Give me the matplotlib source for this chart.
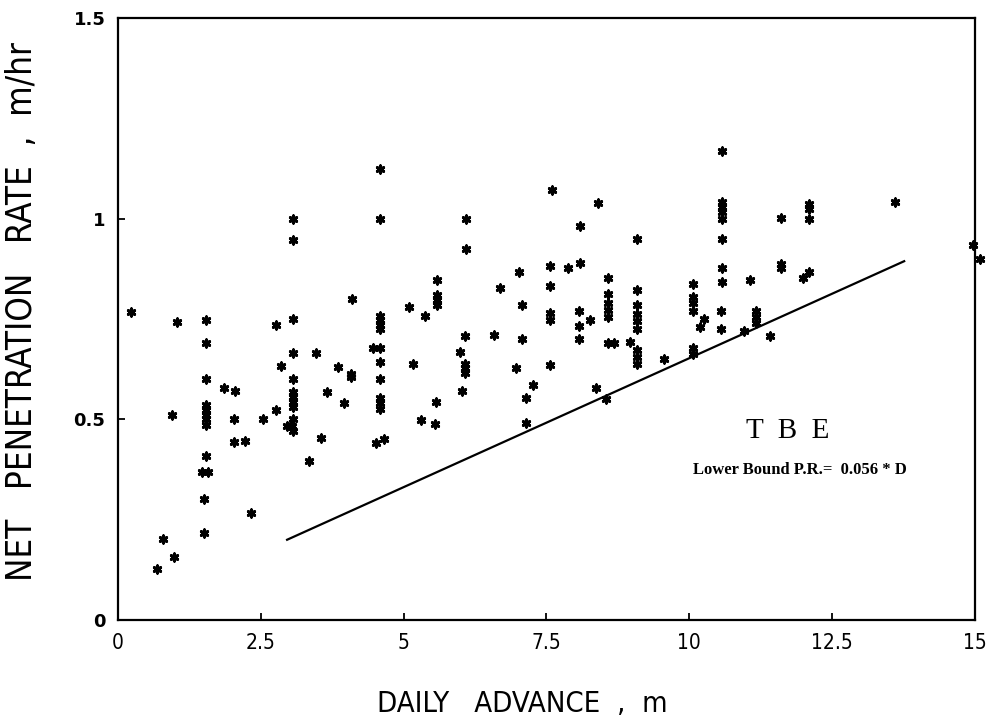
import matplotlib
matplotlib.use("Agg")
import matplotlib.pyplot as plt

# ---- data ----
daily_advance = [
    0.23, 1.03, 0.95, 0.79, 0.68, 0.98,
    1.54, 1.54, 1.54, 1.54, 1.54, 1.54, 1.54, 1.54, 1.54, 1.47, 1.58, 1.51, 1.51,
    1.86, 2.04, 2.03, 2.03, 2.22, 2.33, 2.53, 2.76, 2.76, 2.86,
    3.07, 3.07, 3.07, 3.07, 3.07, 3.07, 3.07, 3.07, 3.07, 3.07, 3.07, 2.95, 3.05,
    3.46, 3.55, 3.35, 3.66, 3.85,
    3.95, 4.07, 4.07, 4.09,
    4.59, 4.59, 4.59, 4.59, 4.59, 4.59, 4.59, 4.59, 4.59, 4.59, 4.59, 4.59, 4.47, 4.51, 4.66,
    5.09, 5.16, 5.38, 5.31, 5.56, 5.54, 5.59, 5.59, 5.59, 5.59,
    6.09, 6.09, 6.08, 5.98, 6.08, 6.08, 6.08, 6.02,
    6.69, 6.58, 7.01, 7.08, 7.08, 6.97, 7.14, 7.27, 7.15,
    7.59, 7.57, 7.57, 7.57, 7.57, 7.56,
    7.88, 8.09, 8.09, 8.40, 8.07, 8.07, 8.07, 8.27, 8.36, 8.55,
    8.58, 8.58, 8.58, 8.58, 8.58, 8.58, 8.68,
    9.08, 9.08, 9.08, 9.08, 9.08, 9.08, 8.97, 9.08, 9.08, 9.08,
    9.56, 10.07, 10.07, 10.07, 10.07, 10.07, 10.07, 10.19, 10.26,
    10.57, 10.57, 10.57, 10.57, 10.57, 10.57, 10.57, 10.57, 10.56, 10.56,
    11.06, 11.16, 11.16, 11.16, 10.96, 11.42,
    11.61, 11.60, 11.60, 12.10, 12.10, 12.10, 11.99, 12.09, 13.60, 14.96, 15.08,
]
penetration_rate = [
    0.768, 0.743, 0.510, 0.201, 0.127, 0.156,
    0.747, 0.689, 0.600, 0.536, 0.523, 0.512, 0.500, 0.486, 0.409, 0.370, 0.370, 0.302, 0.216,
    0.577, 0.571, 0.500, 0.444, 0.447, 0.266, 0.500, 0.523, 0.735, 0.633,
    0.998, 0.946, 0.749, 0.666, 0.600, 0.567, 0.555, 0.542, 0.531, 0.500, 0.472, 0.483, 0.483,
    0.666, 0.453, 0.395, 0.569, 0.630,
    0.541, 0.614, 0.606, 0.800,
    1.123, 0.998, 0.757, 0.747, 0.735, 0.724, 0.677, 0.643, 0.600, 0.552, 0.540, 0.527, 0.677, 0.442, 0.450,
    0.780, 0.638, 0.758, 0.498, 0.542, 0.488, 0.847, 0.810, 0.797, 0.785,
    0.998, 0.924, 0.707, 0.668, 0.638, 0.627, 0.616, 0.571,
    0.826, 0.710, 0.866, 0.786, 0.700, 0.627, 0.552, 0.585, 0.490,
    1.072, 0.881, 0.833, 0.765, 0.747, 0.635,
    0.876, 0.890, 0.981, 1.040, 0.770, 0.732, 0.699, 0.747, 0.577, 0.550,
    0.853, 0.812, 0.789, 0.772, 0.755, 0.690, 0.690,
    0.949, 0.822, 0.784, 0.763, 0.745, 0.726, 0.693, 0.672, 0.655, 0.639,
    0.650, 0.837, 0.805, 0.789, 0.770, 0.677, 0.664, 0.730, 0.751,
    1.168, 1.041, 1.030, 1.017, 1.000, 0.949, 0.877, 0.842, 0.770, 0.726,
    0.848, 0.770, 0.755, 0.740, 0.720, 0.707,
    1.002, 0.888, 0.878, 1.037, 1.025, 1.000, 0.853, 0.866, 1.041, 0.934, 0.900,
]
bound_x = [2.96, 13.76]
bound_y = [0.200, 0.894]

x_ticks = [0, 2.5, 5, 7.5, 10, 12.5, 15]
x_tick_labels = ["0", "2.5", "5", "7.5", "10", "12.5", "15"]
y_ticks = [0, 0.5, 1, 1.5]
y_tick_labels = ["0", "0.5", "1", "1.5"]

sans = ["DejaVu Sans"]
serif = ["Liberation Serif", "DejaVu Serif"]

fig = plt.figure(figsize=(9.93, 7.25), dpi=100)
ax = fig.add_axes([0.1188, 0.1448, 0.8631, 0.8304])

ax.scatter(daily_advance, penetration_rate, marker=(6, 2, 0), s=28,
           linewidths=2.1, color="black", clip_on=False, zorder=3)
ax.scatter(daily_advance, penetration_rate, marker="h", s=11,
           color="black", clip_on=False, zorder=3)
ax.plot(bound_x, bound_y, color="black", linewidth=1.6)

ax.set_xlim(0, 15)
ax.set_ylim(0, 1.5)
ax.set_xticks(x_ticks)
ax.set_xticklabels(x_tick_labels, family=sans, fontstretch="condensed", fontsize=15)
ax.set_yticks(y_ticks)
ax.set_yticklabels(y_tick_labels, family=sans, fontsize=13, fontweight="bold")
ax.tick_params(direction="in", length=5, width=1.3, pad=9)
for s in ax.spines.values():
    s.set_linewidth(1.6)

ax.set_xlabel("DAILY   ADVANCE  ,  m", family=sans, fontstretch="condensed",
              fontsize=21, va="center")
ax.xaxis.set_label_coords(0.4714, -0.1395)
ax.set_ylabel("NET   PENETRATION   RATE  ,  m/hr", family=sans, fontstretch="condensed",
              fontsize=25, va="center")
ax.yaxis.set_label_coords(-0.112, 0.512)

ax.text(11.72, 0.47, "T  B  E", family=serif, fontsize=21, ha="center", va="center")
ax.text(11.93, 0.374, "Lower Bound P.R.=  0.056 * D", family=serif,
        fontsize=12, fontweight="bold", ha="center", va="center")

fig.savefig("out.png", dpi=100)
